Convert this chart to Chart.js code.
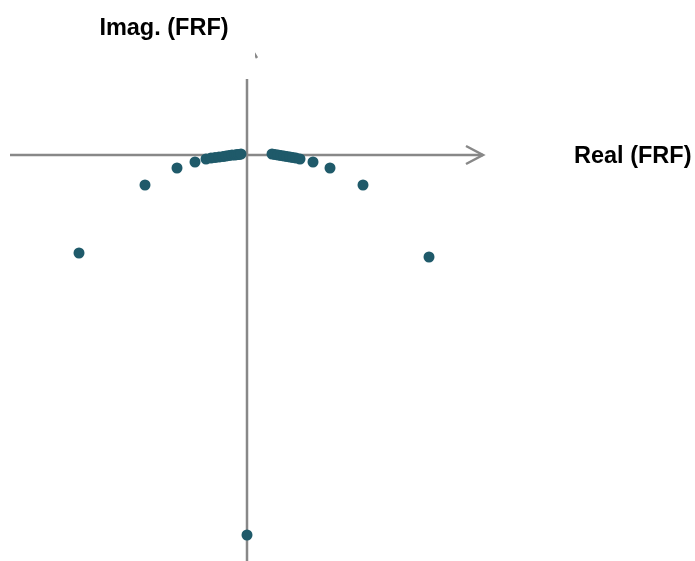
<!DOCTYPE html>
<html>
<head>
<meta charset="utf-8">
<title>FRF Nyquist plot</title>
<script src="https://cdn.jsdelivr.net/npm/chart.js@4/dist/chart.umd.min.js"></script>
<style>
  html, body { margin: 0; padding: 0; background: #ffffff; }
  #wrap { position: relative; width: 695px; height: 561px; }
</style>
</head>
<body>
<div id="wrap"><canvas id="nyquist"></canvas></div>
<script>
// Frequency response samples: real and imaginary parts
const realPart = [
  -1.68, -1.02, -0.70, -0.52, -0.41, -0.36, -0.32, -0.28, -0.24, -0.21,
  -0.18, -0.15, -0.12, -0.10, -0.08, -0.06,
  0.00,
  0.25, 0.28, 0.31, 0.34, 0.37, 0.40, 0.43, 0.46, 0.49, 0.53,
  0.66, 0.83, 1.16, 1.82
];
const imagPart = [
  -0.98, -0.30, -0.13, -0.07, -0.04, -0.03, -0.025, -0.02, -0.015, -0.01,
  -0.005, 0.0, 0.0, 0.005, 0.005, 0.01,
  -3.80,
  0.01, 0.005, 0.0, -0.005, -0.01, -0.015, -0.02, -0.025, -0.03, -0.04,
  -0.07, -0.13, -0.30, -1.02
];
const axisTitles = { x: 'Real (FRF)', y: 'Imag. (FRF)' };

const points = realPart.map((r, i) => ({ x: r, y: imagPart[i] }));

// Draws the cross-shaped complex-plane axes with arrow heads and titles
const complexAxes = {
  id: 'complexAxes',
  beforeDatasetsDraw(chart) {
    const { ctx, scales: { x, y }, chartArea } = chart;
    const x0 = x.getPixelForValue(0);
    const y0 = y.getPixelForValue(0);
    const hLeft = x.getPixelForValue(-2.37);
    const hRight = x.getPixelForValue(2.36);
    const vTop = y.getPixelForValue(0.76);
    const arm = 17, half = 9;

    ctx.save();
    ctx.strokeStyle = '#888888';
    ctx.lineWidth = 2.5;
    ctx.lineCap = 'butt';

    // real axis with arrow
    ctx.beginPath();
    ctx.moveTo(hLeft, y0);
    ctx.lineTo(hRight, y0);
    ctx.stroke();
    ctx.beginPath();
    ctx.moveTo(hRight - arm, y0 - half);
    ctx.lineTo(hRight, y0);
    ctx.lineTo(hRight - arm, y0 + half);
    ctx.stroke();

    // imaginary axis
    ctx.beginPath();
    ctx.moveTo(x0, chartArea.bottom);
    ctx.lineTo(x0, vTop);
    ctx.stroke();

    // upper arrow head, only its right tip shows past the title block
    ctx.save();
    ctx.beginPath();
    ctx.rect(x0 + 8, 0, 20, vTop);
    ctx.clip();
    const tipY = y.getPixelForValue(1.14);
    ctx.beginPath();
    ctx.moveTo(x0 - half - 1, tipY + arm);
    ctx.lineTo(x0, tipY);
    ctx.lineTo(x0 + half + 1, tipY + arm);
    ctx.stroke();
    ctx.restore();

    // titles
    ctx.fillStyle = '#000000';
    ctx.font = 'bold 23.5px "Liberation Sans", Arial, sans-serif';
    ctx.textBaseline = 'middle';
    ctx.textAlign = 'center';
    ctx.fillText(axisTitles.y, 164, 29);
    ctx.textAlign = 'left';
    ctx.fillText(axisTitles.x, 574, y0 + 1.5);
    ctx.restore();
  }
};

new Chart(document.getElementById('nyquist'), {
  type: 'scatter',
  data: {
    datasets: [{
      data: points,
      backgroundColor: '#1f5a6a',
      borderColor: '#1f5a6a',
      pointRadius: 5.5,
      pointHoverRadius: 5.5,
      borderWidth: 0
    }]
  },
  options: {
    responsive: true,
    maintainAspectRatio: false,
    animation: false,
    layout: { padding: 0, autoPadding: false },
    plugins: {
      legend: { display: false },
      tooltip: { enabled: false }
    },
    scales: {
      x: { type: 'linear', min: -2.47, max: 4.48, display: false },
      y: { type: 'linear', min: -4.06, max: 1.55, display: false }
    }
  },
  plugins: [complexAxes]
});
</script>
</body>
</html>
